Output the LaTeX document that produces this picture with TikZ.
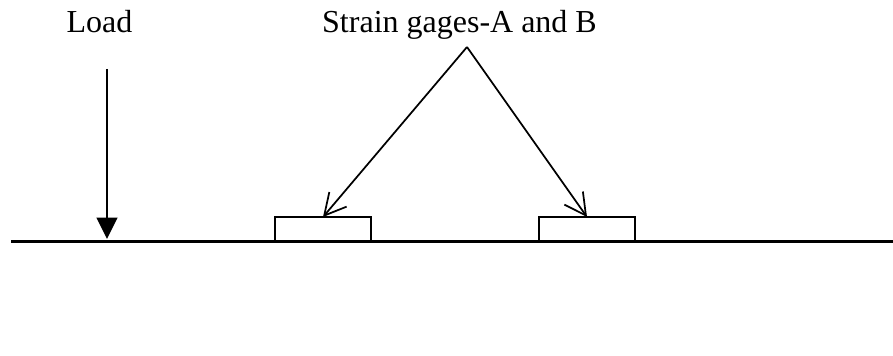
\documentclass[tikz,border=0pt]{standalone}
\usepackage{fontspec}
\setmainfont{Liberation Serif}
\usetikzlibrary{arrows.meta}
\tikzset{
  px/.style={x=0.75pt,y=-0.75pt},
  lbl/.style={inner sep=0pt,font=\fontsize{24}{28}\selectfont,anchor=base},
  gage/.style={draw=black,fill=white,line width=1.5pt,minimum width=72pt,minimum height=18pt,inner sep=0pt,outer sep=0pt},
  thin arrow/.style={draw=black,line width=1.3pt,-{Straight Barb[length=16pt,width=17pt,line width=1.3pt]}},
  load arrow/.style={draw=black,line width=1.5pt,-{Triangle[length=16pt,width=15.5pt,fill=black]}}
}
\begin{document}
\begin{tikzpicture}[px]
\useasboundingbox (0,0) rectangle (893,356);
\coordinate (bl) at (11,241.5);
\coordinate (br) at (893,241.5);
\draw[line width=2.8pt] (bl) -- (br);
\node[gage] (ga) at (323,229) {};
\node[gage] (gb) at (587,229) {};
\node[lbl] (load) at (99.5,33) {Load};
\node[lbl] (strain) at (459.5,33) {Strain gages-A and B};
\coordinate (ls) at (107,69);
\coordinate (le) at (107,239);
\coordinate (apex) at (467,47);
\draw[load arrow] (ls) -- (le);
\draw[thin arrow] (apex) -- (ga.north);
\draw[thin arrow] (apex) -- (gb.north);
\end{tikzpicture}
\end{document}
